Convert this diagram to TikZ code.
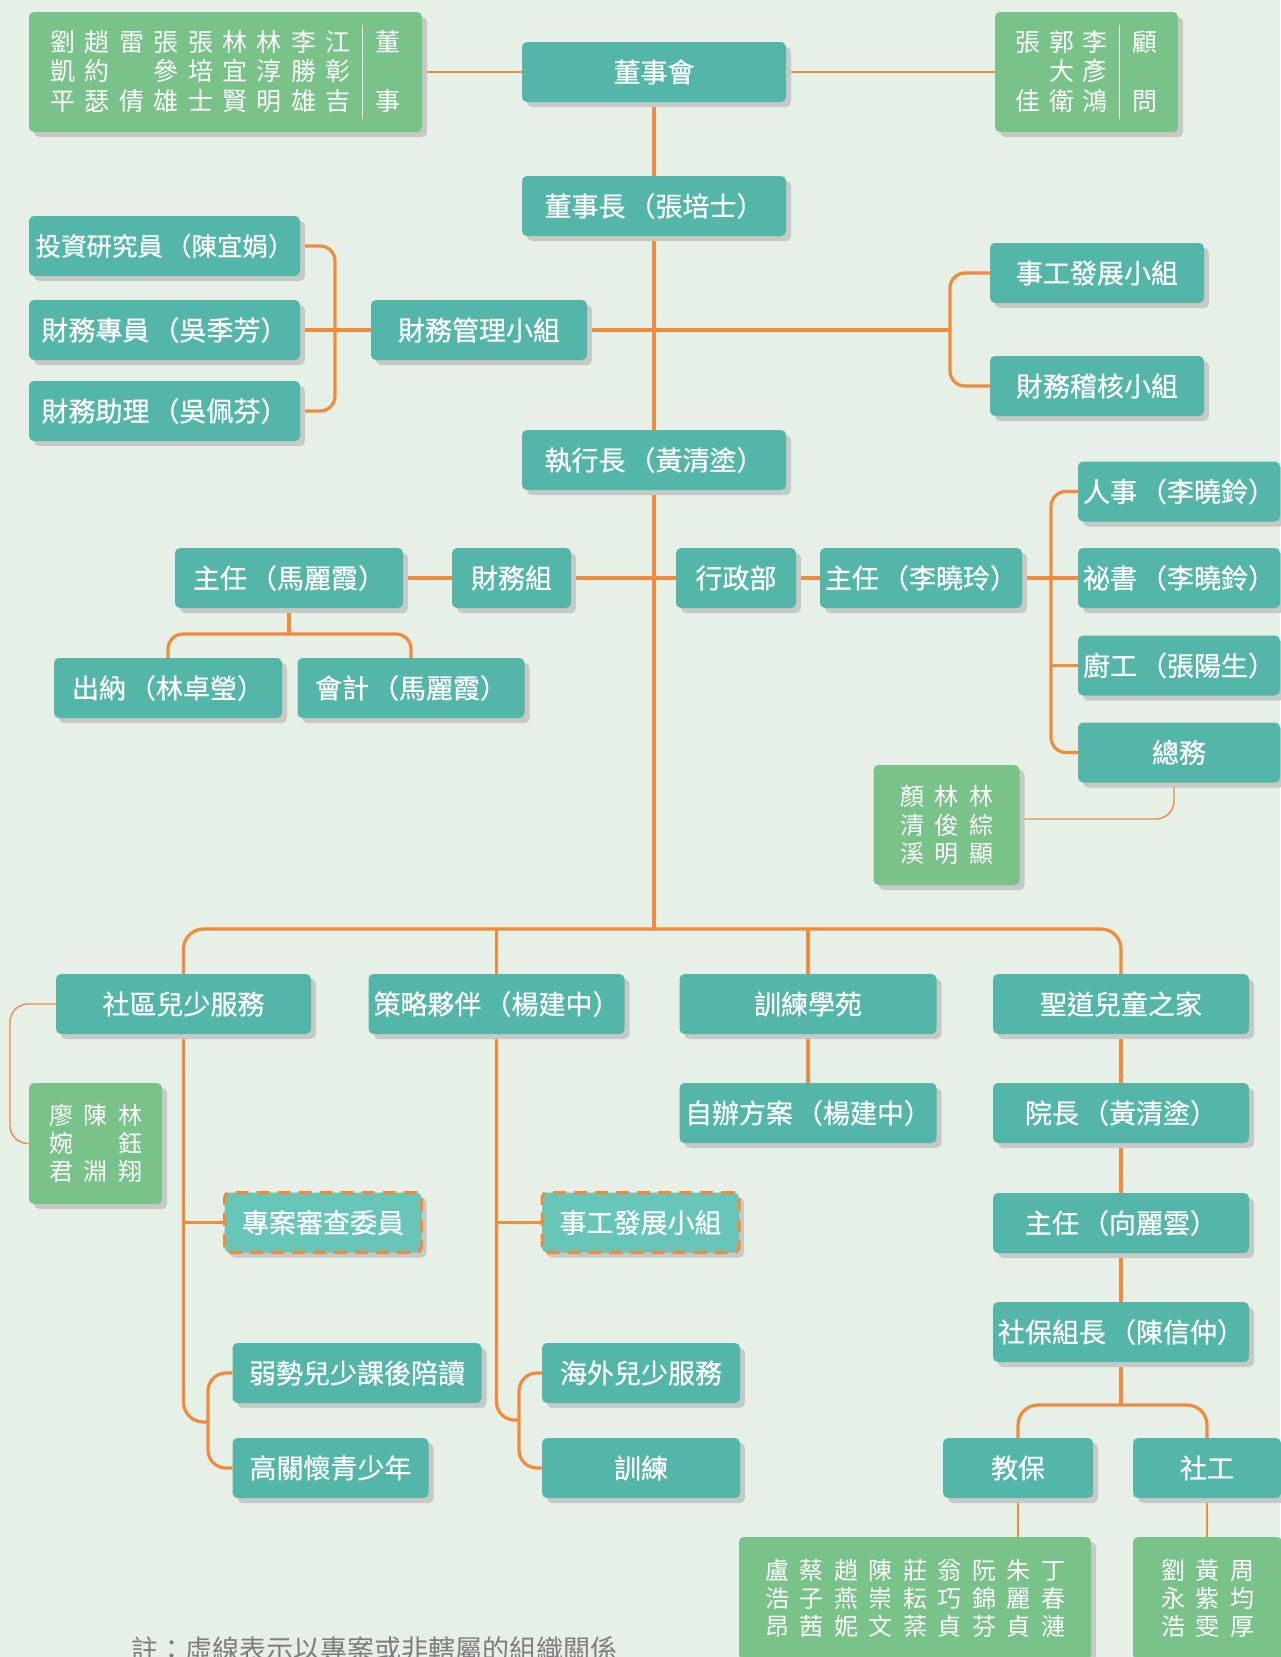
\documentclass[tikz,border=0pt]{standalone}
\usepackage{fontspec}
\setmainfont{Noto Sans CJK TC}
\newfontfamily\boxfont{Noto Sans CJK TC}[FakeBold=0.6,Kerning=Off]
\usetikzlibrary{shadows}
\definecolor{bgc}{HTML}{E7F0E6}
\definecolor{tealc}{HTML}{54B6A8}
\definecolor{greenc}{HTML}{79C28A}
\definecolor{orangec}{HTML}{F08A3C}
\definecolor{shadowc}{HTML}{C6C9C6}
\definecolor{dashc}{HTML}{68C6B9}
\definecolor{notec}{HTML}{7D7D7D}
\setlength\arrayrulewidth{1.3pt}
\newcommand\topstrut{\rule{0pt}{26pt}}
\pgfdeclarelayer{bgl}
\pgfdeclarelayer{lines}
\pgfsetlayers{bgl,lines,main}
\tikzset{
  shad/.style={drop shadow={shadow xshift=5pt, shadow yshift=-5pt, fill=shadowc, opacity=1}},
  unit/.style={shad, rectangle, rounded corners=5pt, fill=tealc, text=white, minimum height=60pt, inner sep=0pt, font=\boxfont\fontsize{27}{30}\selectfont},
  dunit/.style={unit, fill=dashc, draw=orangec, line width=3pt, dash pattern=on 13pt off 8pt},
  names/.style={shad, rectangle, rounded corners=5pt, fill=greenc, text=white, inner sep=0pt, font=\fontsize{24}{27}\selectfont},
  link/.style={draw=orangec, line width=3.2pt},
  thinlink/.style={draw=orangec, line width=1.4pt},
}
\begin{document}
\begin{tikzpicture}[x=1pt,y=-1pt]
\useasboundingbox (0,0) rectangle (1280,1657);
\begin{pgfonlayer}{bgl}
\fill[bgc] (0,0) rectangle (1280,1657);
\end{pgfonlayer}

% ---- top
\node[names, minimum width=393pt, minimum height=120pt, font=\fontsize{25}{28}\selectfont] (dir) at (225.5,72) {\begin{tabular}{@{}*{8}{c@{\hspace{9.4pt}}}c@{\hspace{12pt}}|@{\hspace{12pt}}c@{}}
\topstrut 劉&趙&雷&張&張&林&林&李&江&董\\
凱&約&&參&培&宜&淳&勝&彰&\\
平&瑟&倩&雄&士&賢&明&雄&吉&事
\end{tabular}};
\node[unit, minimum width=264pt] (bod) at (654,72) {董事會};
\node[names, minimum width=183pt, minimum height=120pt, font=\fontsize{25}{28}\selectfont] (adv) at (1086.5,72) {\begin{tabular}{@{}*{2}{c@{\hspace{8.5pt}}}c@{\hspace{12pt}}|@{\hspace{12pt}}c@{}}
\topstrut 張&郭&李&顧\\
&大&彥&\\
佳&衛&鴻&問
\end{tabular}};
\node[unit, minimum width=264pt] (chair) at (654,206) {董事長\kern3pt（張培士）};

% ---- finance management
\node[unit, minimum width=271pt, font=\boxfont\fontsize{25.5}{30}\selectfont] (inv) at (164.5,246) {投資研究員\kern3pt（陳宜娟）};
\node[unit, minimum width=271pt] (fstaff) at (164.5,330) {財務專員\kern3pt（吳季芳）};
\node[unit, minimum width=271pt] (fasst) at (164.5,411) {財務助理\kern3pt（吳佩芬）};
\node[unit, minimum width=216pt] (fmgmt) at (479,330) {財務管理小組};
\node[unit, minimum width=214pt] (swdev) at (1097,273) {事工發展小組};
\node[unit, minimum width=214pt] (faudit) at (1097,386) {財務稽核小組};

% ---- CEO level
\node[unit, minimum width=264pt] (ceo) at (654,460) {執行長\kern3pt（黃清塗）};
\node[unit, minimum width=228pt] (fdir) at (289,578) {主任\kern3pt（馬麗霞）};
\node[unit, minimum width=119pt] (fgrp) at (511.5,578) {財務組};
\node[unit, minimum width=228pt] (cashier) at (168,688) {出納\kern3pt（林卓瑩）};
\node[unit, minimum width=227pt] (acct) at (411,688) {會計\kern3pt（馬麗霞）};
\node[unit, minimum width=120pt] (admin) at (736,578) {行政部};
\node[unit, minimum width=202pt] (adir) at (921,578) {主任\kern3pt（李曉玲）};
\node[unit, minimum width=202pt] (hr) at (1179,491.5) {人事\kern3pt（李曉鈴）};
\node[unit, minimum width=202pt] (sec) at (1179,578) {祕書\kern3pt（李曉鈴）};
\node[unit, minimum width=202pt] (cook) at (1179,665.5) {廚工\kern3pt（張陽生）};
\node[unit, minimum width=202pt] (gen) at (1179,752.5) {總務};
\node[names, minimum width=146pt, minimum height=120pt] (genstaff) at (946.5,825) {\begin{tabular}{@{}c@{\hspace{10.5pt}}c@{\hspace{10.5pt}}c@{}}
\topstrut 顏&林&林\\
清&俊&綜\\
溪&明&顯
\end{tabular}};

% ---- departments
\node[unit, minimum width=255pt] (comm) at (183.5,1004) {社區兒少服務};
\node[unit, minimum width=256pt] (strat) at (496.5,1004) {策略夥伴\kern3pt（楊建中）};
\node[unit, minimum width=257pt] (train) at (808,1004) {訓練學苑};
\node[unit, minimum width=256pt] (home) at (1121,1004) {聖道兒童之家};
\node[names, minimum width=133pt, minimum height=121pt] (commstaff) at (95.5,1143.5) {\begin{tabular}{@{}c@{\hspace{10.5pt}}c@{\hspace{10.5pt}}c@{}}
\topstrut 廖&陳&林\\
婉&&鈺\\
君&淵&翔
\end{tabular}};
\node[dunit, minimum width=197pt] (review) at (323,1222.5) {專案審查委員};
\node[dunit, minimum width=197pt] (swdev2) at (640.5,1222.5) {事工發展小組};
\node[unit, minimum width=257pt] (self) at (808,1113) {自辦方案\kern3pt（楊建中）};
\node[unit, minimum width=256pt] (dean) at (1121,1113) {院長\kern3pt（黃清塗）};
\node[unit, minimum width=256pt] (hdir) at (1121,1223) {主任\kern3pt（向麗雲）};
\node[unit, minimum width=256pt] (swlead) at (1121,1332) {社保組長\kern3pt（陳信仲）};
\node[unit, minimum width=249pt] (tutor) at (357,1373) {弱勢兒少課後陪讀};
\node[unit, minimum width=196pt] (youth) at (330.5,1468) {高關懷青少年};
\node[unit, minimum width=198pt] (overseas) at (641,1373) {海外兒少服務};
\node[unit, minimum width=198pt] (training) at (641,1468) {訓練};
\node[unit, minimum width=150pt] (edu) at (1018,1468) {教保};
\node[unit, minimum width=148pt] (sw) at (1207,1468) {社工};
\node[names, minimum width=352pt, minimum height=123pt] (edustaff) at (915,1598.5) {\begin{tabular}{@{}*{8}{c@{\hspace{10.5pt}}}c@{}}
\topstrut 盧&蔡&趙&陳&莊&翁&阮&朱&丁\\
浩&子&燕&崇&耘&巧&錦&麗&春\\
昂&茜&妮&文&棻&貞&芬&貞&漣
\end{tabular}};
\node[names, minimum width=149pt, minimum height=123pt] (swstaff) at (1207.5,1598.5) {\begin{tabular}{@{}c@{\hspace{10.5pt}}c@{\hspace{10.5pt}}c@{}}
\topstrut 劉&黃&周\\
永&紫&均\\
浩&雯&厚
\end{tabular}};

\node[anchor=base west, text=notec, inner sep=0pt, font=\fontsize{27}{30}\selectfont] (note) at (131,1659) {註：虛線表示以專案或非轄屬的組織關係};

% ---- connectors
\begin{pgfonlayer}{lines}
\draw[thinlink] (dir.east |- bod.west) -- (bod.west);
\draw[thinlink] (bod.east) -- (adv.west |- bod.east);
\draw[link] (bod.south) -- (chair.north);
\draw[link] (chair.south) -- (ceo.north);
\coordinate (fj) at (950,330);
\coordinate (lj) at (335,330);
\draw[link] (fmgmt.east) -- (fj);
\draw[link, rounded corners=15pt] (swdev.west) -- (swdev.west -| fj) -- (faudit.west -| fj) -- (faudit.west);
\draw[link] (fstaff.east) -- (fmgmt.west);
\draw[link, rounded corners=15pt] (inv.east) -- (inv.east -| lj) -- (fasst.east -| lj) -- (fasst.east);

\draw[link] (fdir.east) -- (fgrp.west);
\draw[link] (fgrp.east) -- (admin.west);
\draw[link] (admin.east) -- (adir.west);
\coordinate (aj) at (1051,578);
\draw[link] (adir.east) -- (sec.west);
\draw[link, rounded corners=15pt] (hr.west) -- (hr.west -| aj) -- (gen.west -| aj) -- (gen.west);
\draw[link] (cook.west -| aj) -- (cook.west);
\coordinate (fdj) at (289,634);
\draw[link] (fdir.south) -- (fdj);
\draw[link, rounded corners=15pt] (cashier.north) -- (cashier.north |- fdj) -- (acct.north |- fdj) -- (acct.north);
\coordinate (gj) at (1174,819);
\draw[thinlink, rounded corners=18pt] (genstaff.east |- gj) -- (gj) -- (gj |- gen.south);

\coordinate (bus) at (654,929);
\draw[link] (ceo.south) -- (bus);
\draw[link, rounded corners=20pt] (comm.north) -- (comm.north |- bus) -- (home.north |- bus) -- (home.north);
\draw[link] (strat.north) -- (strat.north |- bus);
\draw[link] (train.north) -- (train.north |- bus);

\coordinate (cb) at (208,1422);
\draw[link, rounded corners=20pt] (comm.south) -- (comm.south |- cb) -- (cb);
\draw[link, rounded corners=18pt] (tutor.west) -- (tutor.west -| cb) -- (youth.west -| cb) -- (youth.west);
\draw[link] (review.west) -- (review.west -| comm.south);
\coordinate (ck) at (10,1007);
\draw[thinlink, rounded corners=18pt] (comm.west) -- (comm.west -| ck) -- (commstaff.west -| ck) -- (commstaff.west);

\coordinate (sb) at (519,1420);
\draw[link, rounded corners=18pt] (strat.south) -- (strat.south |- sb) -- (sb);
\draw[link, rounded corners=18pt] (overseas.west) -- (overseas.west -| sb) -- (training.west -| sb) -- (training.west);
\draw[link] (swdev2.west) -- (swdev2.west -| strat.south);

\draw[link] (train.south) -- (self.north);
\draw[link] (home.south) -- (dean.north);
\draw[link] (dean.south) -- (hdir.north);
\draw[link] (hdir.south) -- (swlead.north);
\coordinate (hj) at (1121,1405);
\draw[link] (swlead.south) -- (hj);
\draw[link, rounded corners=20pt] (edu.north) -- (edu.north |- hj) -- (sw.north |- hj) -- (sw.north);
\draw[thinlink] (edu.south) -- (edu.south |- edustaff.north);
\draw[thinlink] (sw.south) -- (sw.south |- swstaff.north);
\end{pgfonlayer}
\end{tikzpicture}
\end{document}
